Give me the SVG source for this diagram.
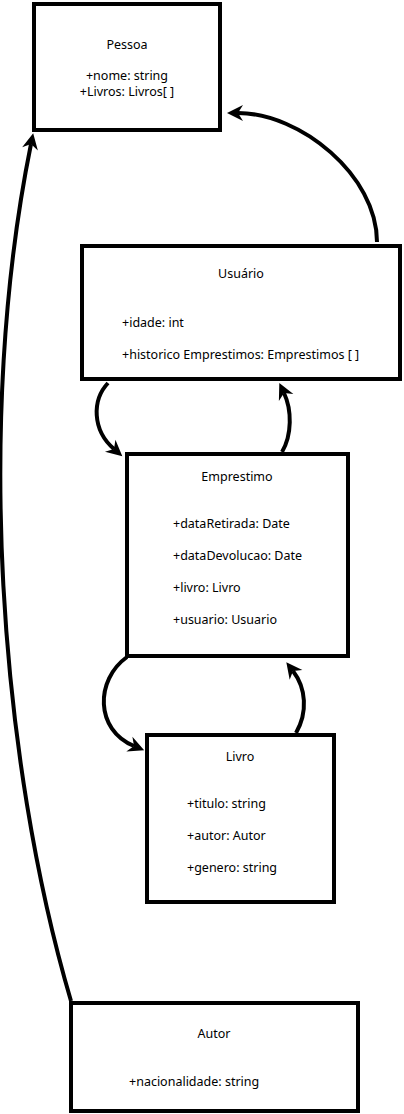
<svg xmlns="http://www.w3.org/2000/svg" width="404" height="1114" viewBox="0 0 404 1114">
<style>
.box{fill:#fff;stroke:#000;stroke-width:4}
.t{font-family:"Noto Sans","Open Sans",sans-serif;font-size:12.5px;fill:#000}
.c{text-anchor:middle}
.e{fill:none;stroke:#000;stroke-width:4;marker-end:url(#ar)}
</style>
<defs>
<marker id="ar" markerUnits="userSpaceOnUse" markerWidth="18" markerHeight="18" refX="5" refY="8" orient="auto" viewBox="0 0 18 18" overflow="visible">
<path d="M0,0 L16,8 L0,16 L5,8 z" fill="#000"/>
</marker>
</defs>
<rect width="404" height="1114" fill="#fff"/>
<g id="pessoa">
<rect class="box" x="34" y="4" width="186" height="126"/>
<text class="t c" x="127" y="49">Pessoa</text>
<text class="t c" x="127" y="80">+nome: string</text>
<text class="t c" x="127" y="96">+Livros: Livros[ ]</text>
</g>
<g id="usuario">
<rect class="box" x="82" y="246" width="318" height="133"/>
<text class="t c" x="241" y="278">Usuário</text>
<text class="t" x="122" y="327">+idade: int</text>
<text class="t" x="122" y="359">+historico Emprestimos: Emprestimos [ ]</text>
</g>
<g id="emprestimo">
<rect class="box" x="127" y="454" width="221" height="202"/>
<text class="t c" x="237" y="481">Emprestimo</text>
<text class="t" x="173" y="528">+dataRetirada: Date</text>
<text class="t" x="173" y="560">+dataDevolucao: Date</text>
<text class="t" x="173" y="592">+livro: Livro</text>
<text class="t" x="173" y="624">+usuario: Usuario</text>
</g>
<g id="livro">
<rect class="box" x="147" y="735" width="187" height="167"/>
<text class="t c" x="240" y="761">Livro</text>
<text class="t" x="187" y="808">+titulo: string</text>
<text class="t" x="187" y="840">+autor: Autor</text>
<text class="t" x="187" y="872">+genero: string</text>
</g>
<g id="autor">
<rect class="box" x="71" y="1003" width="287" height="108"/>
<text class="t c" x="214" y="1038">Autor</text>
<text class="t" x="129" y="1086">+nacionalidade: string</text>
</g>
<g id="connectors">
<path class="e" d="M377,242 C377,175 300,113 238,113"/>
<path class="e" d="M108,383 C92,400 92,430 114,449"/>
<path class="e" d="M282,452 C292,435 292,410 284,393"/>
<path class="e" d="M127,657 C95,680 95,730 134,746"/>
<path class="e" d="M296,733 C308,712 306,688 293,671"/>
<path class="e" d="M71,1001 C0,760 -25,420 31,144"/>
</g>
</svg>
